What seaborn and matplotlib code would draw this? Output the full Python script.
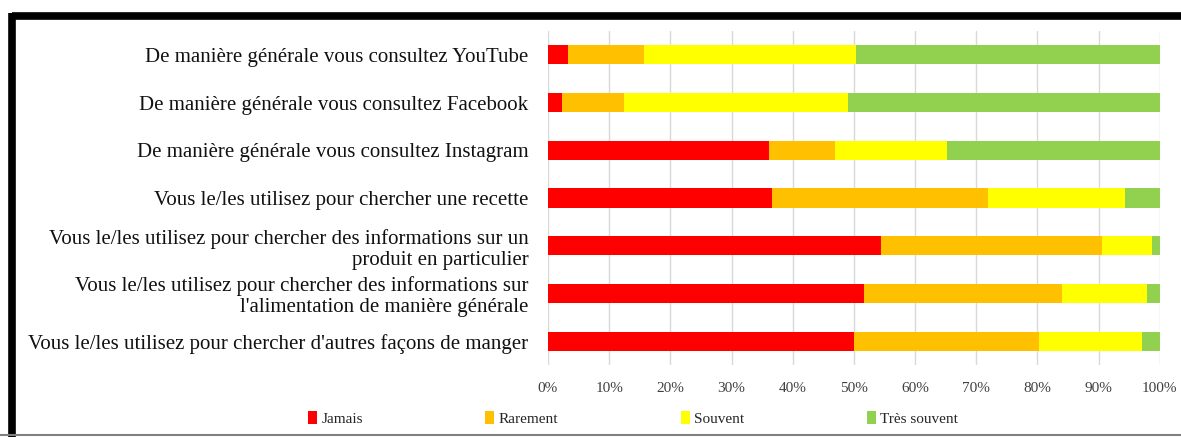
import numpy as np
import pandas as pd
import matplotlib
matplotlib.use("Agg")
import matplotlib.pyplot as plt
import seaborn as sns
from matplotlib.lines import Line2D
from matplotlib.patches import Patch
from matplotlib.ticker import PercentFormatter

# questions (haut -> bas)
questions = [
    "De manière générale vous consultez YouTube",
    "De manière générale vous consultez Facebook",
    "De manière générale vous consultez Instagram",
    "Vous le/les utilisez pour chercher une recette",
    "Vous le/les utilisez pour chercher des informations sur un\nproduit en particulier",
    "Vous le/les utilisez pour chercher des informations sur\nl'alimentation de manière générale",
    "Vous le/les utilisez pour chercher d'autres façons de manger",
]

# réponses en %
jamais = [3.2, 2.3, 36.1, 36.7, 54.5, 51.6, 50.0]
rarement = [12.5, 10.2, 10.8, 35.3, 36.0, 32.5, 30.3]
souvent = [34.6, 36.6, 18.4, 22.3, 8.2, 13.8, 16.8]
tres_souvent = [49.7, 50.9, 34.7, 5.7, 1.3, 2.1, 2.9]

series = ["Jamais", "Rarement", "Souvent", "Très souvent"]
couleurs = ["#FF0000", "#FFC000", "#FFFF00", "#92D050"]

df = pd.DataFrame({"question": questions, "Jamais": jamais, "Rarement": rarement,
                   "Souvent": souvent, "Très souvent": tres_souvent}).set_index("question")
# normaliser à 100 %
df = df.div(df.sum(axis=1), axis=0) * 100
cum = df.cumsum(axis=1)

sns.set_style("white")
plt.rcParams['font.family'] = ['Liberation Serif', 'DejaVu Serif']

fig = plt.figure(figsize=(11.81, 4.37), dpi=100)
ax = fig.add_axes([0.464, 0.165, 0.518, 0.764])

# barres empilées : du total cumulé le plus grand au plus petit
for s, c in reversed(list(zip(series, couleurs))):
    sns.barplot(x=cum[s].values, y=list(df.index), color=c, width=0.4,
                orient="h", ax=ax, saturation=1, linewidth=0)

ax.set_xlim(0, 100)
ax.set_xticks(np.arange(0, 101, 10))
ax.xaxis.set_major_formatter(PercentFormatter(decimals=0))
ax.grid(axis="x", color="#D9D9D9", linewidth=1)
ax.set_axisbelow(True)
for sp in ax.spines.values():
    sp.set_visible(False)
ax.set_xlabel("")
ax.set_ylabel("")
ax.tick_params(axis="both", length=0)
ax.tick_params(axis="x", labelsize=11, pad=12, colors="#404040")
ax.tick_params(axis="y", labelsize=15.0, pad=14)
for t in ax.get_yticklabels():
    t.set_linespacing(1.15)
    t.set_color("#111111")

handles = [Patch(facecolor=c, edgecolor="none") for c in couleurs]
fig.legend(handles, series, loc="center", bbox_to_anchor=(0.536, 0.042), ncol=4,
           frameon=False, fontsize=11, handlelength=0.6, handleheight=0.9,
           handletextpad=0.3, columnspacing=8.0)

# cadre
fig.add_artist(Line2D([0.0105, 1.0], [0.963, 0.963], color="black", linewidth=5.5,
                      transform=fig.transFigure, solid_capstyle="butt"))
fig.add_artist(Line2D([0.0105, 0.0105], [0.0, 0.97], color="black", linewidth=5.5,
                      transform=fig.transFigure, solid_capstyle="butt"))
fig.add_artist(Line2D([0.0, 1.0], [0.004, 0.004], color="#808080", linewidth=1.5,
                      transform=fig.transFigure))

fig.savefig("out.png", dpi=100)
